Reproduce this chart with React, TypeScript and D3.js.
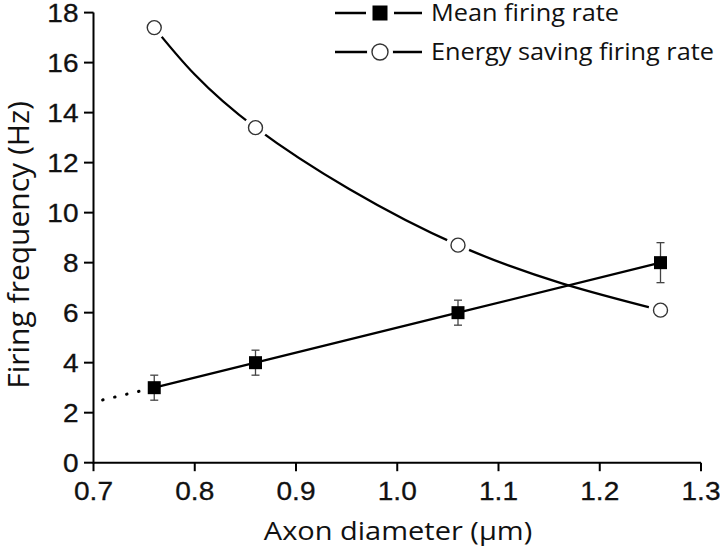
import React from "react";
import * as d3 from "d3";

const diameters = [0.76, 0.86, 1.06, 1.26];
const meanRate = [3, 4, 6, 8];
const meanErrLow = [2.5, 3.5, 5.5, 7.2];
const meanErrHigh = [3.5, 4.5, 6.5, 8.8];
const energyRate = [17.4, 13.4, 8.7, 6.1];
const extrapStart = [0.709, 2.51];
const xTicks = [0.7, 0.8, 0.9, 1.0, 1.1, 1.2, 1.3];
const yTicks = [0, 2, 4, 6, 8, 10, 12, 14, 16, 18];
const legendLabels = ["Mean firing rate", "Energy saving firing rate"];

const W = 720;
const H = 554;
const titleFont = "'Open Sans', 'DejaVu Sans', sans-serif";
const tickFont = "'Liberation Sans', Arial, sans-serif";

export default function App() {
  const x = d3.scaleLinear().domain([0.7, 1.3]).range([93.5, 701]);
  const y = d3.scaleLinear().domain([0, 18]).range([462.7, 12.6]);

  const meanPts: [number, number][] = diameters.map((d, i) => [x(d), y(meanRate[i])]);
  const energyPts: [number, number][] = diameters.map((d, i) => [x(d), y(energyRate[i])]);
  const straight = d3.line();
  const smooth = d3.line().curve(d3.curveNatural);
  const extrap: [number, number][] = [
    [x(extrapStart[0]), y(extrapStart[1])],
    [x(diameters[0]), y(meanRate[0])],
  ];

  const sq = 13;
  const cr = 7;
  const legendY = [13, 52];
  const lx0 = 335, lx1 = 422, lmx = 380;

  return (
    <svg width={W} height={H} style={{ position: "absolute", left: 0, top: 0, background: "#fff" }}>
      <rect x={0} y={0} width={W} height={H} fill="#fff" />
      {/* axes */}
      <line x1={x(0.7)} x2={x(1.3)} y1={y(0)} y2={y(0)} stroke="#000" strokeWidth={2} />
      <line x1={x(0.7)} x2={x(0.7)} y1={y(0) + 1} y2={y(18)} stroke="#000" strokeWidth={2} />
      {xTicks.map((t) => (
        <g key={"xt" + t}>
          <line x1={x(t)} x2={x(t)} y1={y(0)} y2={y(0) + 8.5} stroke="#000" strokeWidth={2} />
          <text
            transform={`translate(${x(t)}, 500) scale(1.1, 1)`}
            textAnchor="middle"
            fontFamily={tickFont}
            fontSize={25.5}
            fill="#111"
            stroke="#111"
            strokeWidth={0.3}
          >
            {t.toFixed(1)}
          </text>
        </g>
      ))}
      {yTicks.map((t) => (
        <g key={"yt" + t}>
          <line x1={x(0.7) - 9.5} x2={x(0.7)} y1={y(t)} y2={y(t)} stroke="#000" strokeWidth={2} />
          <text
            transform={`translate(78.5, ${y(t)}) scale(1.12, 1)`}
            dy="0.36em"
            textAnchor="end"
            fontFamily={tickFont}
            fontSize={25}
            fill="#111"
            stroke="#111"
            strokeWidth={0.3}
          >
            {t}
          </text>
        </g>
      ))}
      <text
        transform="translate(398, 540) scale(1.16, 1)"
        textAnchor="middle"
        fontFamily={titleFont}
        fontSize={25}
        fill="#111"
      >
        Axon diameter (μm)
      </text>
      <text
        transform={`translate(29, 245) rotate(-90)`}
        textAnchor="middle"
        fontFamily={titleFont}
        fontSize={30}
        fill="#111"
      >
        Firing frequency (Hz)
      </text>

      {/* lines */}
      <path d={straight(extrap) || ""} fill="none" stroke="#000" strokeWidth={3} strokeDasharray="0.5,11.8" strokeLinecap="round" />
      <path d={straight(meanPts) || ""} fill="none" stroke="#000" strokeWidth={2.3} />
      <path d={smooth(energyPts) || ""} fill="none" stroke="#000" strokeWidth={2.3} />

      {/* error bars */}
      {diameters.map((d, i) => (
        <g key={"eb" + i} stroke="#444" strokeWidth={1.3}>
          <line x1={x(d)} x2={x(d)} y1={y(meanErrLow[i])} y2={y(meanErrHigh[i])} />
          <line x1={x(d) - 4} x2={x(d) + 4} y1={y(meanErrLow[i])} y2={y(meanErrLow[i])} />
          <line x1={x(d) - 4} x2={x(d) + 4} y1={y(meanErrHigh[i])} y2={y(meanErrHigh[i])} />
        </g>
      ))}

      {/* energy markers with halo */}
      {energyPts.map(([px, py], i) => (
        <g key={"em" + i}>
          <circle cx={px} cy={py} r={cr} fill="#fff" stroke="#fff" strokeWidth={10} />
          <circle cx={px} cy={py} r={cr} fill="#fff" stroke="#333" strokeWidth={1.4} />
        </g>
      ))}
      {/* mean markers */}
      {meanPts.map(([px, py], i) => (
        <rect key={"mm" + i} x={px - sq / 2} y={py - sq / 2} width={sq} height={sq} fill="#000" />
      ))}

      {/* legend */}
      {legendLabels.map((lab, i) => (
        <g key={"lg" + i}>
          <line x1={lx0} x2={lx1} y1={legendY[i]} y2={legendY[i]} stroke="#000" strokeWidth={2.3} />
          {i === 0 ? (
            <g>
              <rect x={lmx - 14} y={legendY[i] - 8} width={28} height={16} fill="#fff" />
              <rect x={lmx - 7.5} y={legendY[i] - 7.5} width={15} height={15} fill="#000" />
            </g>
          ) : (
            <g>
              <circle cx={lmx} cy={legendY[i]} r={8} fill="#fff" stroke="#fff" strokeWidth={10} />
              <circle cx={lmx} cy={legendY[i]} r={8} fill="#fff" stroke="#333" strokeWidth={1.4} />
            </g>
          )}
          <text
            transform={`translate(431, ${legendY[i]}) scale(1.1, 1)`}
            dy="0.36em"
            fontFamily={titleFont}
            fontSize={23}
            fill="#111"
          >
            {lab}
          </text>
        </g>
      ))}
    </svg>
  );
}
